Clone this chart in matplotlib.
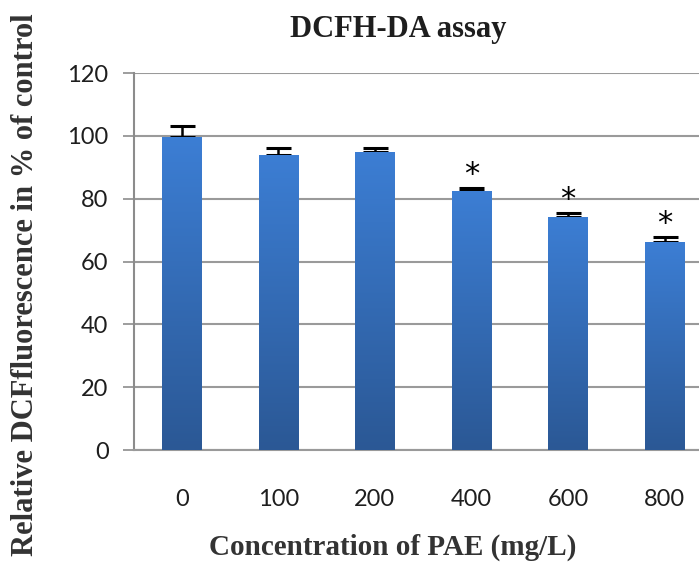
import numpy as np
import matplotlib
matplotlib.use("Agg")
import matplotlib.pyplot as plt
from matplotlib.colors import LinearSegmentedColormap

# data
concentrations = ["0", "100", "200", "400", "600", "800"]
fluorescence = [99.5, 94.0, 94.9, 82.5, 74.3, 66.1]
errors = [3.6, 2.2, 1.3, 0.8, 1.0, 1.6]
significant = [False, False, False, True, True, True]

fig = plt.figure(figsize=(6.99, 5.63), dpi=100)
ax = fig.add_axes([0.191, 0.2007, 0.815, 0.6696])

x = np.arange(len(concentrations))
bars = ax.bar(x, fluorescence, width=0.41, color="#3572C2", zorder=3)

# vertical gradient on each bar
cmap = LinearSegmentedColormap.from_list("blues", ["#2B5895", "#3C7ED4"])
grad = np.linspace(0, 1, 256).reshape(-1, 1)
for b in bars:
    im = ax.imshow(grad, cmap=cmap, origin="lower", aspect="auto", zorder=3,
                   extent=[b.get_x(), b.get_x() + b.get_width(), 0, b.get_height()])
    im.set_clip_path(b)

# upper error bars only (lower half hidden behind the bars)
ax.errorbar(x, fluorescence, yerr=[np.zeros(len(errors)), errors], fmt="none",
            ecolor="black", elinewidth=1.8, capsize=9, capthick=2.2, zorder=2)

for xi, v, e, s in zip(x, fluorescence, errors, significant):
    if s:
        ax.text(xi, v + e + 4.3, "*", ha="center", va="center", fontsize=22,
                family="DejaVu Sans", color="black", zorder=5)

ax.set_xlim(-0.5, 5.4)
ax.set_ylim(0, 120)
ax.set_yticks(range(0, 121, 20))
ax.set_xticks(x)
ax.set_xticklabels(concentrations)

ax.grid(axis="y", color="#9A9A9A", linewidth=1.5, zorder=0)
for sp in ["top", "right"]:
    ax.spines[sp].set_visible(False)
ax.spines["left"].set_color("#8C8C8C")
ax.spines["left"].set_linewidth(1.5)
ax.spines["bottom"].set_color("#9A9A9A")
ax.spines["bottom"].set_linewidth(1.5)

ax.tick_params(axis="y", length=8, width=1.2, color="#8C8C8C", pad=10,
               labelsize=17, labelcolor="#1E1E1E")
ax.tick_params(axis="x", length=0, pad=28, labelsize=17, labelcolor="#1E1E1E")
for lab in ax.get_xticklabels() + ax.get_yticklabels():
    lab.set_family("Lato")

fig.text(0.569, 0.947, "DCFH-DA assay", ha="center", va="center",
         fontsize=22, fontweight="bold", family="Liberation Serif", color="#1E1E1E")
fig.text(0.036, 0.494, "Relative DCFfluorescence in % of control", rotation=90,
         ha="center", va="center", fontsize=22, fontweight="bold",
         family="Liberation Serif", color="#333333")
fig.text(0.562, 0.027, "Concentration of PAE (mg/L)", ha="center", va="center",
         fontsize=21, fontweight="bold", family="Liberation Serif", color="#333333")

plt.savefig("out.png", dpi=100)
